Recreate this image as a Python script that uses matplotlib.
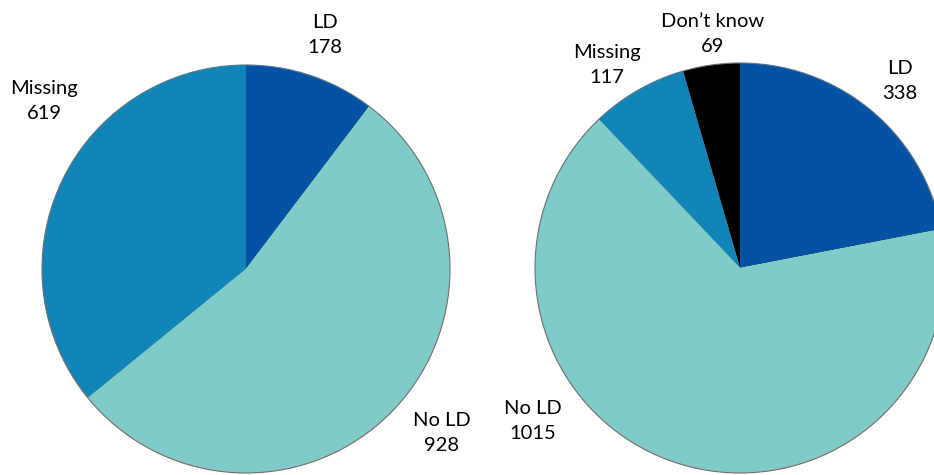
import matplotlib.pyplot as plt
from matplotlib.patches import Circle

# data
left_labels = ["LD", "No LD", "Missing"]
left_values = [178, 928, 619]
left_colors = ["#0352A3", "#7ECBC8", "#1185B8"]

right_labels = ["LD", "No LD", "Missing", "Don\u2019t know"]
right_values = [338, 1015, 117, 69]
right_colors = ["#0352A3", "#7ECBC8", "#1185B8", "#000000"]

W, H = 934, 475
fig = plt.figure(figsize=(W / 100, H / 100), dpi=100)
ax = fig.add_axes([0, 0, 1, 1])

# pies placed in pixel-like units
pies = [
    (left_values, left_colors, (246, H - 269), 204),
    (right_values, right_colors, (740, H - 268), 205),
]
for vals, cols, c, r in pies:
    ax.pie(vals, colors=cols, startangle=90, counterclock=False,
           center=c, radius=r, frame=True,
           wedgeprops=dict(edgecolor="none", linewidth=0))
    ax.add_patch(Circle(c, r, fill=False, edgecolor="#6e6e6e", lw=0.8))

ax.set_xlim(0, W)
ax.set_ylim(0, H)
ax.set_aspect("equal")
ax.axis("off")

# label positions (pixels)
left_pos = [(325, 35), (442, 433), (44, 101)]
right_pos = [(900, 81), (533, 421), (607, 65), (713, 34)]

font = dict(fontsize=14.5, family="Lato", ha="center", va="center",
            linespacing=1.55)
for lab, v, (px, py) in zip(left_labels, left_values, left_pos):
    ax.text(px, H - py, "%s\n%d" % (lab, v), **font)
for lab, v, (px, py) in zip(right_labels, right_values, right_pos):
    ax.text(px, H - py, "%s\n%d" % (lab, v), **font)

fig.savefig("out.png", dpi=100)
